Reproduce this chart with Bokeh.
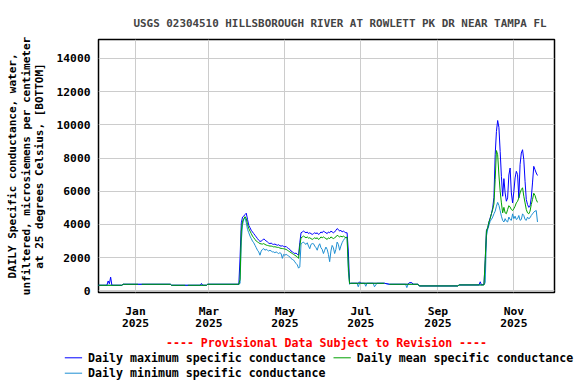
import numpy as np
import pandas as pd
from bokeh.plotting import figure
from bokeh.layouts import column
from bokeh.models import ColumnDataSource, Range1d, FixedTicker, Title
from bokeh.core.properties import value
from bokeh.embed import file_html
from bokeh.resources import INLINE

FONT = "DejaVu Sans Mono"
NAN = float("nan")

TITLE = "USGS 02304510 HILLSBOROUGH RIVER AT ROWLETT PK DR NEAR TAMPA FL"
Y_LABEL = ("DAILY Specific conductance, water,\n"
           "unfiltered, microsiemens per centimeter\n"
           "at 25 degrees Celsius, [BOTTOM]")
PROVISIONAL = "---- Provisional Data Subject to Revision ----"
LEGEND_LABELS = ["Daily maximum specific conductance",
                 "Daily mean specific conductance",
                 "Daily minimum specific conductance"]
COLORS = {"max": "#0000FF", "mean": "#00A000", "min": "#1E8FD2"}

y_ticks = [0, 2000, 4000, 6000, 8000, 10000, 12000, 14000]
x_tick_dates = ["2025-01-01", "2025-03-01", "2025-05-01",
                "2025-07-01", "2025-09-01", "2025-11-01"]
x_tick_labels = ["Jan\n2025", "Mar\n2025", "May\n2025",
                 "Jul\n2025", "Sep\n2025", "Nov\n2025"]

# ---- winter low-flow period (sparse observations) ----
max_winter_dates = ["2024-12-02", "2024-12-09", "2024-12-10", "2024-12-11",
                    "2024-12-12", "2024-12-13", "2024-12-21", "2024-12-22",
                    "2025-01-29", "2025-01-30", "2025-02-22", "2025-02-23",
                    "2025-02-24", "2025-02-27", "2025-02-28", "2025-03-25"]
max_winter = [340, 340, 600, 430, 830, 340, 340, 400,
              400, 340, 340, 450, 340, 340, 400, 400]

mean_winter_dates = ["2024-12-02", "2024-12-21", "2024-12-22", "2025-01-03",
                     "2025-01-04", "2025-01-06", "2025-01-29", "2025-01-30",
                     "2025-02-10", "2025-02-11", "2025-02-12", "2025-02-27",
                     "2025-02-28", "2025-03-25"]
mean_winter = [340, 340, 400, 400, NAN, 400, 400, 340,
               340, NAN, 340, 340, 400, 400]

min_winter_dates = ["2024-12-02", "2024-12-21", "2024-12-22", "2025-01-29",
                    "2025-01-30", "2025-02-27", "2025-02-28", "2025-03-25"]
min_winter = [340, 340, 400, 400, 340, 340, 400, 400]

# ---- spring high-conductance period, daily from 2025-03-26 ----
spring_start = "2025-03-26"
max_spring = [2000, 4100, 4450, 4500, 4600, 4680, 4300, 3950, 3800, 3650,
              3550, 3450, 3350, 3250, 3150, 3050, 2980, 3000, 3050, 3130,
              3080, 3000, 2950, 2880, 2850, 2880, 2820, 2800, 2820, 2780,
              2750, 2780, 2720, 2700, 2720, 2680, 2650, 2680, 2600, 2550,
              2500, 2400, 2350, 2300, 2250, 2280, 2200, 2150, 2900, 3500,
              3550, 3600, 3550, 3500, 3550, 3450, 3500, 3450, 3400, 3450,
              3500, 3450, 3500, 3400, 3450, 3550, 3500, 3600, 3550, 3500,
              3450, 3550, 3500, 3600, 3550, 3500, 3550, 3650, 3750, 3700,
              3600, 3650, 3550, 3600, 3550, 3500, 3500, 2400, 450]
mean_spring = [700, 3600, 4200, 4350, 4470, 4350, 4000, 3750, 3600, 3450,
               3300, 3200, 3100, 3000, 2950, 2900, 2850, 2830, 2820, 2850,
               2800, 2760, 2740, 2720, 2700, 2700, 2680, 2650, 2660, 2640,
               2620, 2620, 2580, 2560, 2550, 2540, 2520, 2500, 2450, 2400,
               2350, 2300, 2250, 2200, 2150, 2100, 2050, 1960, 2700, 3200,
               3250, 3300, 3250, 3200, 3250, 3180, 3200, 3150, 3100, 3150,
               3200, 3150, 3200, 3100, 3150, 3250, 3200, 3250, 3200, 3150,
               3100, 3200, 3150, 3250, 3200, 3150, 3200, 3250, 3350, 3300,
               3250, 3300, 3250, 3300, 3250, 3200, 3250, 1500, 450]
min_spring = [450, 3000, 4000, 4300, 4410, 4100, 3700, 3500, 3300, 3150,
              3000, 2900, 2750, 2600, 2450, 2350, 2150, 2400, 2500, 2550,
              2450, 2500, 2450, 2400, 2450, 2400, 2350, 2350, 2300, 2350,
              2300, 2250, 2300, 2250, 1960, 2200, 2150, 2200, 2150, 2100,
              2050, 1950, 1900, 1860, 1750, 1650, 1570, 1370, 1450, 2840,
              2900, 2940, 2850, 2800, 2900, 2700, 2540, 2800, 2850, 2840,
              2700, 2600, 2450, 2700, 2840, 2600, 2500, 2250, 2450, 2640,
              2500, 2200, 1760, 2400, 2740, 2600, 2250, 2500, 2940, 2800,
              2450, 2700, 2900, 3040, 3150, 3240, 3200, 1200, 400]

# ---- summer low period (sparse observations) ----
max_summer_dates = ["2025-06-23", "2025-06-29", "2025-06-30", "2025-07-01",
                    "2025-07-20", "2025-07-24", "2025-08-08", "2025-08-09",
                    "2025-08-11", "2025-08-12", "2025-08-16", "2025-08-17",
                    "2025-09-17", "2025-09-18", "2025-10-04", "2025-10-05",
                    "2025-10-06", "2025-10-08"]
max_summer = [460, 460, 550, 460, 460, 400, 400, 500,
              500, 400, 400, 300, 300, 360, 360, 550, 360, 400]

mean_summer_dates = ["2025-06-23", "2025-07-20", "2025-07-21", "2025-07-24",
                     "2025-08-16", "2025-08-17", "2025-09-17", "2025-09-18",
                     "2025-10-08"]
mean_summer = [460, 460, NAN, 400, 400, 300, 300, 360, 360]

min_summer_dates = ["2025-06-23", "2025-06-28", "2025-06-29", "2025-06-30",
                    "2025-07-04", "2025-07-05", "2025-07-06", "2025-07-11",
                    "2025-07-12", "2025-07-14", "2025-07-20", "2025-07-24",
                    "2025-08-06", "2025-08-07", "2025-08-08", "2025-08-16",
                    "2025-08-17", "2025-09-17", "2025-09-18", "2025-10-08"]
min_summer = [460, 460, 250, 460, 460, 280, 460, 460, 250, 460,
              460, 400, 400, 200, 400, 400, 300, 300, 360, 360]

# ---- autumn high-conductance period, daily from 2025-10-09 ----
fall_start = "2025-10-09"
max_fall = [1900, 3650, 3800, 4150, 4400, 4650, 5000, 5630, 8200, 9600,
            10260, 9850, 8400, 6900, 5700, 6760, 5900, 5400, 5600, 6980,
            7400, 5900, 5300, 5980, 6800, 7200, 7000, 5600, 7600, 8300,
            8500, 7900, 6600, 5500, 5200, 5030, 5100, 5600, 6500, 7500,
            7300, 7100, 6950]
mean_fall = [1850, 3600, 3800, 4150, 4350, 4650, 4900, 5230, 6700, 8450,
             8200, 6980, 6000, 5300, 4700, 5030, 4700, 4650, 4900, 5130,
             5050, 4900, 4840, 4950, 5100, 5300, 5400, 5600, 5900, 6100,
             6210, 5700, 5300, 4900, 4700, 4640, 4800, 5200, 5500, 5880,
             5750, 5500, 5330]
min_fall = [500, 3300, 3700, 3950, 4200, 4300, 4450, 4640, 4800, 5100,
            5330, 5150, 4840, 4500, 4245, 4150, 4350, 4200, 4150, 4450,
            4300, 4250, 4640, 4350, 4500, 4300, 4350, 4540, 4250, 4300,
            4640, 4540, 4300, 4250, 4443, 4344, 4400, 4541, 4640, 4740,
            4800, 4840, 4150]


def build(w_dates, w_vals, spring, s_dates, s_vals, fall):
    x = (list(pd.to_datetime(w_dates))
         + list(pd.date_range(spring_start, periods=len(spring), freq="D"))
         + list(pd.to_datetime(s_dates))
         + list(pd.date_range(fall_start, periods=len(fall), freq="D")))
    y = np.array(list(w_vals) + list(spring) + list(s_vals) + list(fall),
                 dtype=float)
    return ColumnDataSource(data=dict(x=x, y=y))


src_max = build(max_winter_dates, max_winter, max_spring,
                max_summer_dates, max_summer, max_fall)
src_mean = build(mean_winter_dates, mean_winter, mean_spring,
                 mean_summer_dates, mean_summer, mean_fall)
src_min = build(min_winter_dates, min_winter, min_spring,
                min_summer_dates, min_summer, min_fall)

p = figure(width=576, height=351, x_axis_type="datetime",
           output_backend="svg", toolbar_location=None,
           x_range=Range1d(pd.Timestamp("2024-12-02 06:00"),
                           pd.Timestamp("2025-12-03 16:00")),
           y_range=Range1d(-95, 15136),
           min_border_left=98, min_border_right=22,
           min_border_top=39, min_border_bottom=54)

p.background_fill_color = "white"
p.border_fill_color = "white"
p.outline_line_color = "black"
p.outline_line_width = 1.5

# title
p.title.text = TITLE
p.title.align = "left"
p.title.offset = 35
p.title.text_font = FONT
p.title.text_font_size = "10.9px"
p.title.text_font_style = "bold"
p.title.standoff = 19

# axes
tick_ms = [int(pd.Timestamp(d).value // 10**6) for d in x_tick_dates]
p.xaxis.ticker = FixedTicker(ticks=tick_ms)
p.xaxis.major_label_overrides = {t: l for t, l in zip(tick_ms, x_tick_labels)}
p.yaxis.ticker = FixedTicker(ticks=y_ticks)
p.yaxis.axis_label = Y_LABEL
for ax in (p.xaxis, p.yaxis):
    ax.axis_line_color = None
    ax.major_tick_line_color = None
    ax.minor_tick_line_color = None
    ax.major_tick_out = 0
    ax.major_tick_in = 0
    ax.major_label_text_font = FONT
    ax.major_label_text_font_size = "11.3px"
    ax.major_label_text_font_style = "bold"
    ax.major_label_text_color = "black"
    ax.major_label_standoff = 8
p.xaxis.major_label_standoff = 12
p.xaxis.major_label_text_line_height = 0.94
p.yaxis.axis_label_text_font = FONT
p.yaxis.axis_label_text_font_size = "11px"
p.yaxis.axis_label_text_font_style = "bold"
p.yaxis.axis_label_text_color = "black"
p.yaxis.axis_label_text_line_height = 1.05
p.yaxis.axis_label_standoff = 7

p.grid.grid_line_color = "#cccccc"
p.grid.grid_line_width = 1

# series
r_min = p.line("x", "y", source=src_min, line_color=COLORS["min"], line_width=1)
r_max = p.line("x", "y", source=src_max, line_color=COLORS["max"], line_width=1)
r_mean = p.line("x", "y", source=src_mean, line_color=COLORS["mean"], line_width=1)

# provisional notice below the axis
p.add_layout(Title(text=PROVISIONAL, align="center", text_color="#FF0000",
                   text_font=FONT, text_font_size="11.6px",
                   text_font_style="bold", standoff=3), "below")

# legend strip under the chart
lf = figure(width=576, height=33, output_backend="svg", toolbar_location=None,
            x_range=Range1d(0, 576), y_range=Range1d(0, 33),
            x_axis_location=None, y_axis_location=None,
            min_border=0, min_border_left=0, min_border_right=0,
            min_border_top=0, min_border_bottom=0)
lf.grid.visible = False
lf.outline_line_color = None
lf.background_fill_color = "white"
lf.border_fill_color = "white"
leg_colors = [COLORS["max"], COLORS["mean"], COLORS["min"]]
leg_x0 = [64.3, 333.0, 64.3]
leg_y = [26.7, 26.7, 11.3]
lf.segment(x0=leg_x0, y0=leg_y, x1=[x + 17.3 for x in leg_x0], y1=leg_y,
           line_color=leg_colors, line_width=1)
lf.text(x=[x + 23.3 for x in leg_x0], y=leg_y, text=LEGEND_LABELS,
        text_font=value(FONT), text_font_size=value("11.6px"),
        text_font_style=value("bold"), text_baseline="middle",
        text_align="left", text_color="black")

try:
    p.frame_align = False
    lf.frame_align = False
    html = file_html(column(p, lf, spacing=0), INLINE)
except AttributeError:
    html = file_html([p, lf], INLINE)
open("out.html", "w").write(html)
